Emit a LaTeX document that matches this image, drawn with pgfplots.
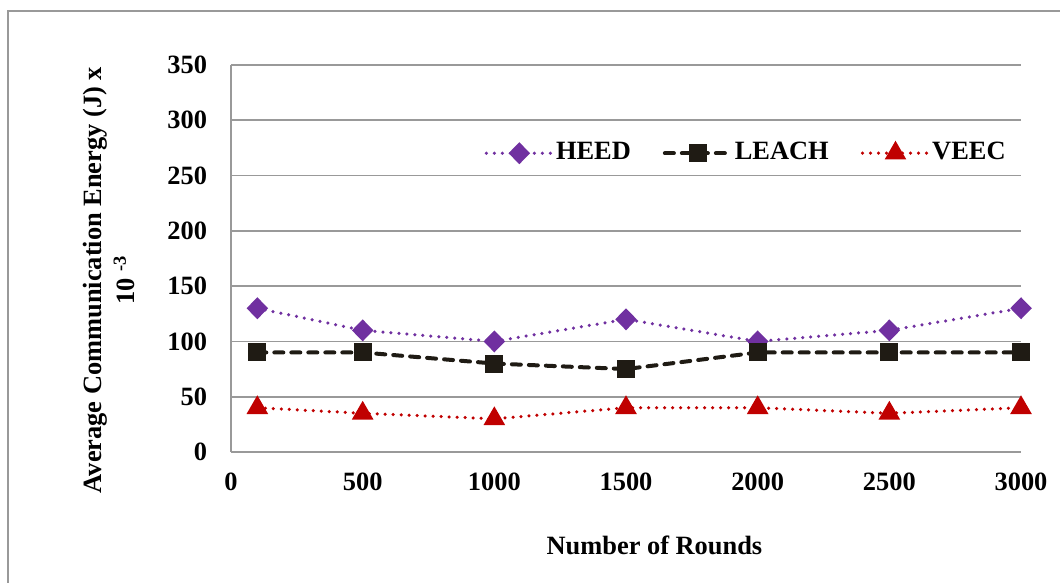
\documentclass[border=0pt]{standalone}
\usepackage{fontspec}
\setmainfont{Liberation Serif}
\usepackage{pgfplots}
\pgfplotsset{compat=1.18}
\definecolor{heed}{HTML}{7030A0}
\definecolor{leach}{HTML}{1F1B14}
\definecolor{veec}{HTML}{C00000}
\definecolor{gridc}{HTML}{999999}
\begin{document}
\fontsize{26.5}{33}\selectfont\bfseries
\begin{tikzpicture}[x=1bp,y=1bp]
\useasboundingbox (0,0) rectangle (1060,583);
\draw[gridc, line width=1.5bp] (8,0) -- (8,572) -- (1060,572);
\begin{axis}[
  at={(231bp,131bp)}, anchor=south west,
  scale only axis, width=790bp, height=387bp,
  xmin=0, xmax=3000, ymin=0, ymax=350,
  xtick={0,500,...,3000}, ytick={0,50,...,350},
  ymajorgrids, grid style={gridc, line width=1.6bp},
  axis lines=left, axis line style={-, gridc, line width=1.6bp},
  major tick length=0pt, tick style={draw=none},
  /pgf/number format/assume math mode=true,
  /pgf/number format/set thousands separator={},
  tick label style={font=\fontsize{26.5}{30}\selectfont\bfseries},
  xticklabel style={yshift=-12bp},
  yticklabel style={xshift=-15bp},
  xlabel={Number of Rounds},
  ylabel={Average Communication Energy (J) x\\10 \textsuperscript{-3}},
  every axis x label/.style={at={(axis description cs:0.536,-0.240)}, anchor=center, font=\fontsize{26.5}{33}\selectfont\bfseries},
  every axis y label/.style={at={(axis description cs:-0.154,0.444)}, anchor=center, rotate=90, align=center, font=\fontsize{26.5}{33}\selectfont\bfseries},
  legend columns=3,
  legend style={draw=none, fill=none, at={(axis description cs:0.652,0.772)}, anchor=center, font=\fontsize{26.5}{30}\selectfont\bfseries, /tikz/every even column/.append style={column sep=30bp}},
  legend image code/.code={\draw[mark repeat=2,mark phase=2,#1] plot coordinates {(0bp,0bp)(33bp,0bp)(66bp,0bp)};},
  clip=false,
]
\addplot[heed, line width=3.5bp, line cap=round, dash pattern=on 0bp off 8bp, mark=diamond*, mark size=8.5bp, mark options={solid, xscale=1.3, fill=heed}]
  coordinates {(100,130) (500,110) (1000,100) (1500,120) (2000,100) (2500,110) (3000,130)};
\addlegendentry{HEED}
\addplot[leach, line width=4bp, line cap=round, dash pattern=on 9bp off 8bp, mark=square*, mark size=7bp, mark options={solid, fill=leach}]
  coordinates {(100,90) (500,90) (1000,80) (1500,75) (2000,90) (2500,90) (3000,90)};
\addlegendentry{LEACH}
\addplot[veec, line width=3.5bp, line cap=round, dash pattern=on 0bp off 8bp, mark=triangle*, mark size=9bp, mark options={solid, fill=veec}]
  coordinates {(100,40) (500,35) (1000,30) (1500,40) (2000,40) (2500,35) (3000,40)};
\addlegendentry{VEEC}
\end{axis}
\end{tikzpicture}
\end{document}
